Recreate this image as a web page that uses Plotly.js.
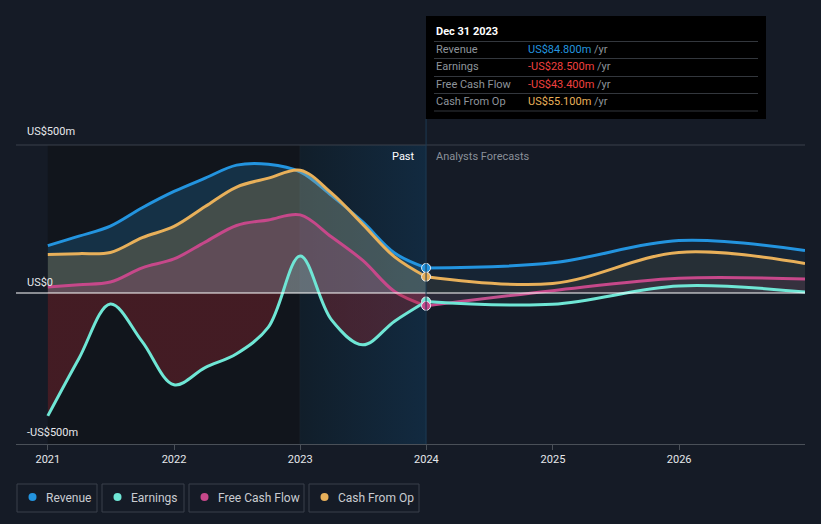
<!DOCTYPE html>
<html>
<head>
<meta charset="utf-8">
<script src="https://cdn.plot.ly/plotly-3.0.1.min.js"></script>
<style>
html,body{margin:0;padding:0;background:#151b26;}
#chart{width:821px;height:524px;}
</style>
</head>
<body>
<div id="chart"></div>
<script>
// ---- data (US$ millions) ----
const pastDates = ['2021-01-01','2021-04-01','2021-07-01','2021-10-01','2022-01-01','2022-04-01','2022-07-01','2022-10-01','2023-01-01','2023-04-01','2023-07-01','2023-10-01','2023-12-31'];
const revenuePast  = [160, 192, 226, 288, 343, 388, 432, 435, 409, 330, 240, 135, 84.8];
const earningsPast = [-415, -221, -37, -164, -310, -252, -205, -115, 125, -90, -175, -95, -28.5];
const fcfPast      = [20, 28, 37, 85, 115, 172, 228, 247, 264, 190, 110, 5, -43.4];
const cfoPast      = [130, 133, 137, 187, 225, 292, 358, 388, 415, 338, 232, 122, 55.1];

const fcDates = ['2023-12-31','2024-12-31','2025-12-31','2026-12-31'];
const revenueFc  = [84.8, 102, 177, 144];
const earningsFc = [-28.5, -38, 24, 3];
const fcfFc      = [-43.4, 8, 50, 47];
const cfoFc      = [55.1, 32, 137, 100];

const yTicks = [500, 0, -500];
const yTickLabels = ['US$500m', 'US$0', '-US$500m'];
const xTickVals = ['2021-01-01','2022-01-01','2023-01-01','2024-01-01','2025-01-01','2026-01-01'];
const xTickText = ['2021','2022','2023','2024','2025','2026'];

const seriesNames = ['Revenue','Earnings','Free Cash Flow','Cash From Op'];
const colors = {rev:'#2394df', earn:'#6fe6d5', fcf:'#c6488a', cfo:'#e8b05a'};

// ---- geometry helpers (pixel -> paper) ----
const W=821,H=524,L=16,R=16,T=145,B=80;
const pw=W-L-R, ph=H-T-B;
const px=x=>(x-L)/pw, py=y=>(H-B-y)/ph;

function line(x,y,color,fillcolor,extra){
  return Object.assign({x:x,y:y,type:'scatter',mode:'lines',
    line:{color:color,width:3,shape:'spline',smoothing:1},
    fill:'tozeroy',fillcolor:fillcolor,hoverinfo:'skip',showlegend:false},extra||{});
}

const traces = [
  // highlight band 2023-2024 with horizontal gradient
  {x:['2023-01-01','2023-12-31','2023-12-31','2023-01-01','2023-01-01'],y:[-510,-510,500,500,-510],
   type:'scatter',mode:'lines',line:{width:0},fill:'toself',
   fillgradient:{type:'horizontal',colorscale:[[0,'rgba(17,30,42,1)'],[1,'rgba(18,42,64,1)']]},
   fillcolor:'rgba(17,34,50,1)',hoverinfo:'skip',showlegend:false},
  line(pastDates,revenuePast,colors.rev,'rgba(35,148,223,0.22)'),
  line(pastDates,cfoPast,colors.cfo,'rgba(232,176,90,0.22)'),
  line(pastDates,fcfPast,colors.fcf,'rgba(198,72,138,0.22)'),
  line(pastDates,earningsPast,colors.earn,'rgba(160,40,50,0.35)',{
    fillgradient:{type:'vertical',start:-510,stop:500,
      colorscale:[[0,'rgba(160,40,50,0.35)'],[0.504,'rgba(160,40,50,0.35)'],[0.506,'rgba(111,230,213,0.2)'],[1,'rgba(111,230,213,0.2)']]}}),
  line(fcDates,revenueFc,colors.rev,'rgba(35,148,223,0.08)'),
  line(fcDates,cfoFc,colors.cfo,'rgba(232,176,90,0.08)'),
  line(fcDates,fcfFc,colors.fcf,'rgba(198,72,138,0.10)'),
  line(fcDates,earningsFc,colors.earn,'rgba(111,230,213,0.05)'),
  {x:[pastDates[12],pastDates[12],pastDates[12],pastDates[12]],
   y:[revenuePast[12],cfoPast[12],earningsPast[12],fcfPast[12]],
   type:'scatter',mode:'markers',hoverinfo:'skip',showlegend:false,
   marker:{size:9,color:[colors.rev,colors.cfo,colors.earn,colors.fcf],line:{color:'#e8eef5',width:1}}}
];

const shapes = [
  {type:'rect',xref:'x',yref:'y',x0:'2021-01-01',x1:'2023-01-01',y0:-510,y1:500,fillcolor:'#11151c',line:{width:0},layer:'below'},
  {type:'line',xref:'x',yref:'y',x0:'2023-01-01',x1:'2023-01-01',y0:-510,y1:500,line:{color:'#1c2935',width:1},layer:'below'},
  {type:'line',xref:'paper',yref:'paper',x0:0,x1:1,y0:1,y1:1,line:{color:'#3b414b',width:1}},
  {type:'line',xref:'paper',yref:'y',x0:0,x1:1,y0:0,y1:0,line:{color:'#ffffff',width:1.2}},
  {type:'line',xref:'x',yref:'paper',x0:'2023-12-31',x1:'2023-12-31',y0:0,y1:py(119),line:{color:'#1d3a52',width:1}},
  // tooltip box
  {type:'rect',xref:'paper',yref:'paper',x0:px(426),x1:px(766),y0:py(119),y1:py(16),fillcolor:'#000000',line:{width:0}}
];
[41.5,58.5,76.5,93.5,111].forEach(y=>shapes.push({type:'line',xref:'paper',yref:'paper',x0:px(434),x1:px(758),y0:py(y),y1:py(y),line:{color:'#33373d',width:1}}));

const annotations = [];
function ann(text,x,y,opts){
  annotations.push(Object.assign({text:text,xref:'paper',yref:'paper',x:px(x),y:py(y),showarrow:false,
    xanchor:'left',yanchor:'middle',font:{family:'Roboto, sans-serif',size:11,color:'#e6e8eb'}},opts||{}));
}
// y labels
ann(yTickLabels[0],25,131);
ann(yTickLabels[1],25,282);
ann(yTickLabels[2],25,432);
ann('Past',417,156,{xanchor:'right',font:{family:'Roboto, sans-serif',size:11,color:'#ffffff'}});
ann('Analysts Forecasts',434,156,{font:{family:'Roboto, sans-serif',size:11,color:'#8a9099'}});
// tooltip
ann('<b>Dec 31 2023</b>',434,31,{font:{family:'Roboto, sans-serif',size:11,color:'#ffffff'}});
const tipRows = [
  [seriesNames[0],'US$84.800m','#2394df',49.5],
  [seriesNames[1],'-US$28.500m','#f0403f',67],
  [seriesNames[2],'-US$43.400m','#f0403f',84.5],
  [seriesNames[3],'US$55.100m','#e8b05a',101.5]
];
tipRows.forEach(r=>{
  ann(r[0],434,r[3],{font:{family:'Roboto, sans-serif',size:11,color:'#8e949b'}});
  ann('<span style="color:'+r[2]+'">'+r[1]+'</span> /yr',526,r[3],{font:{family:'Roboto, sans-serif',size:11,color:'#8e949b'}});
});
// legend
const legBoxes = [[17,97],[102,184],[189,304],[309,419]];
const legColors = [colors.rev,colors.earn,colors.fcf,colors.cfo];
legBoxes.forEach((b,i)=>{
  shapes.push({type:'rect',xref:'paper',yref:'paper',x0:px(b[0]),x1:px(b[1]),y0:py(512),y1:py(484),line:{color:'#3a404a',width:1},fillcolor:'rgba(0,0,0,0)'});
  shapes.push({type:'circle',xref:'paper',yref:'paper',x0:px(b[0]+11.5),x1:px(b[0]+19.5),y0:py(501),y1:py(493),line:{width:0},fillcolor:legColors[i]});
  ann(seriesNames[i],b[0]+27,497.5,{font:{family:'Roboto, sans-serif',size:12,color:'#c9ccd1'}});
});

const layout = {
  width:W,height:H,margin:{l:L,r:R,t:T,b:B},
  paper_bgcolor:'#151b26',plot_bgcolor:'#151b26',
  showlegend:false,hovermode:false,
  xaxis:{type:'date',range:['2020-10-01','2026-12-31'],tickvals:xTickVals,ticktext:xTickText,
    showgrid:false,zeroline:false,showline:true,linecolor:'#4a5058',linewidth:1,
    ticks:'outside',ticklen:5,tickcolor:'#4a5058',
    tickfont:{family:'Roboto, sans-serif',size:11,color:'#e6e8eb'},fixedrange:true},
  yaxis:{range:[-510,500],showgrid:false,zeroline:false,showticklabels:false,fixedrange:true,tickvals:yTicks},
  shapes:shapes,annotations:annotations
};

Plotly.newPlot('chart',traces,layout,{displayModeBar:false,staticPlot:true});
</script>
</body>
</html>
